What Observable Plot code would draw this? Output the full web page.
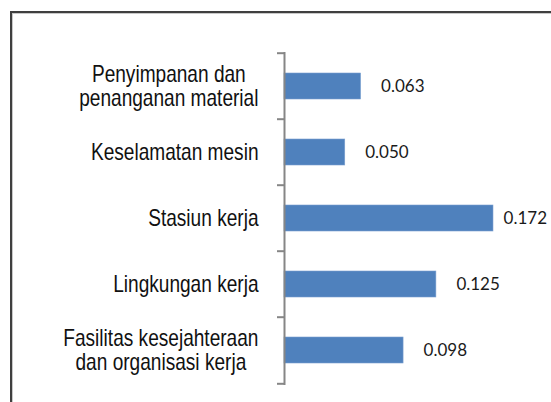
<!DOCTYPE html>
<html>
<head>
<meta charset="utf-8">
<script src="https://cdn.jsdelivr.net/npm/d3@7"></script>
<script src="https://cdn.jsdelivr.net/npm/@observablehq/plot@0.6"></script>
<style>
  html, body { margin: 0; padding: 0; background: #fff; width: 551px; height: 402px; overflow: hidden; }
  #frame { position: absolute; left: 10px; top: 11px; width: 700px; height: 600px;
           border-left: 2px solid #3f3f3f; border-top: 2px solid #3f3f3f;
           box-shadow: inset 1px 1px 0 #c8c8c8; }
  #chart { position: absolute; left: 0; top: 0; }
</style>
</head>
<body>
<div id="frame"></div>
<div id="chart"></div>
<script>
const categories = [
  "Penyimpanan dan\npenanganan material",
  "Keselamatan mesin",
  "Stasiun kerja",
  "Lingkungan kerja",
  "Fasilitas kesejahteraan\ndan organisasi kerja"
];
const values = [0.063, 0.050, 0.172, 0.125, 0.098];
const xDomain = [0, 0.2];

const data = categories.map((c, i) => ({category: c, value: values[i]}));

const W = 551, H = 402;
const mLeft = 284, mRight = 24, mTop = 52, mBottom = 17;
const step = (H - mTop - mBottom) / categories.length;
const tickLen = 7 * (xDomain[1] - xDomain[0]) / (W - mLeft - mRight);
const narrow = 0.83; // condensed look of the category labels

const plot = Plot.plot({
  width: W,
  height: H,
  marginLeft: mLeft,
  marginRight: mRight,
  marginTop: mTop,
  marginBottom: mBottom,
  style: {background: "transparent", overflow: "visible"},
  x: {domain: xDomain, axis: null},
  y: {domain: categories, paddingInner: 0.6, paddingOuter: 0.3, label: null},
  marks: [
    Plot.barX(data, {y: "category", x: "value", fill: "#4f81bd", stroke: "#7a9fcf", strokeWidth: 0.6}),
    Plot.ruleX([0], {stroke: "#868686", strokeWidth: 2}),
    Plot.ruleY(categories, {y: d => d, x1: -tickLen, x2: 0, dy: -step / 2, stroke: "#868686", strokeWidth: 2}),
    Plot.ruleY([categories[categories.length - 1]], {y: d => d, x1: -tickLen, x2: 0, dy: step / 2, stroke: "#868686", strokeWidth: 2}),
    Plot.axisY({tickSize: 0, tickPadding: 26, fontSize: 23, fontFamily: "'Liberation Sans', Arial, sans-serif",
                lineHeight: 1.045, fill: "#111", label: null}),
    Plot.text(data, {y: "category", x: "value", text: d => d3.format(".3f")(d.value), dx: 20, textAnchor: "start",
                     fontSize: 17, fontFamily: "Lato, 'Open Sans', sans-serif", fill: "#1a1a1a"})
  ]
});
document.getElementById("chart").appendChild(plot);

// category labels: center wrapped lines against each other, then condense horizontally
plot.querySelectorAll('g[aria-label="y-axis tick label"] text').forEach(t => {
  const spans = t.querySelectorAll("tspan");
  if (spans.length > 1) {
    const widths = Array.from(spans, s => s.getComputedTextLength());
    const maxW = Math.max(...widths);
    t.setAttribute("text-anchor", "middle");
    spans.forEach(s => {
      const x0 = +(s.getAttribute("x") || 0);
      s.setAttribute("x", x0 - maxW / 2);
    });
  }
  const tr = t.getAttribute("transform") || "";
  t.setAttribute("transform", tr + ` scale(${narrow},1)`);
});

// keep value labels inside the picture (shift left like the original does)
const svgRect = plot.getBoundingClientRect();
plot.querySelectorAll('g[aria-label="text"] text').forEach(t => {
  const r = t.getBoundingClientRect();
  const over = r.right - (svgRect.left + W - 4);
  if (over > 0) {
    const tr = t.getAttribute("transform") || "";
    t.setAttribute("transform", tr + ` translate(${-over},0)`);
  }
});
</script>
</body>
</html>
